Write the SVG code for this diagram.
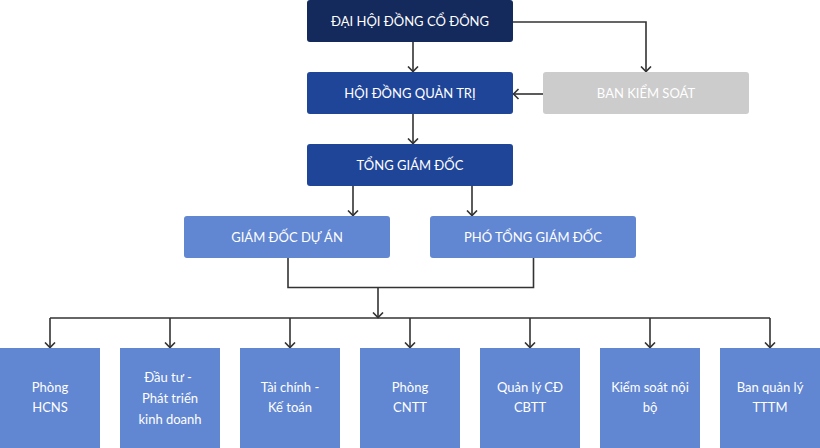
<svg xmlns="http://www.w3.org/2000/svg" width="820" height="448" viewBox="0 0 820 448">
<style>
.dark{fill:#14295c}
.mid{fill:#1f4599}
.light{fill:#6186d2}
.gray{fill:#cccccc}
.t{font-family:Lato,"Noto Sans","Liberation Sans",sans-serif;font-size:13px;fill:#ffffff;text-anchor:middle}
.c{fill:none;stroke:#333333;stroke-width:1.6}
</style>
<defs>
<marker id="ah" markerUnits="userSpaceOnUse" viewBox="-1 -7 8 14" markerWidth="8" markerHeight="14" refX="5.5" refY="0" orient="auto">
<path d="M0,-5 L5,0 L0,5" fill="none" stroke="#333333" stroke-width="1.6"/>
</marker>
</defs>
<rect width="820" height="448" fill="#ffffff"/>
<g id="connectors">
<path class="c" d="M413,42 V72" marker-end="url(#ah)"/>
<path class="c" d="M513,22 H646 V72" marker-end="url(#ah)"/>
<path class="c" d="M543,94 H513" marker-end="url(#ah)"/>
<path class="c" d="M413,114 V144" marker-end="url(#ah)"/>
<path class="c" d="M353,186 V216" marker-end="url(#ah)"/>
<path class="c" d="M472,186 V216" marker-end="url(#ah)"/>
<path class="c" d="M288,258 V287.5 H533.5 V258"/>
<path class="c" d="M378,287.5 V318" marker-end="url(#ah)"/>
<path class="c" d="M50,318 H770"/>
<path class="c" d="M50,318 V348" marker-end="url(#ah)"/>
<path class="c" d="M170,318 V348" marker-end="url(#ah)"/>
<path class="c" d="M290,318 V348" marker-end="url(#ah)"/>
<path class="c" d="M410,318 V348" marker-end="url(#ah)"/>
<path class="c" d="M530,318 V348" marker-end="url(#ah)"/>
<path class="c" d="M650,318 V348" marker-end="url(#ah)"/>
<path class="c" d="M770,318 V348" marker-end="url(#ah)"/>
</g>
<g id="dhdcd"><rect class="dark" x="307" y="0" width="206" height="42" rx="3"/><text class="t" x="410" y="26">ĐẠI HỘI ĐỒNG CỔ ĐÔNG</text></g>
<g id="hdqt"><rect class="mid" x="307" y="72" width="206" height="42" rx="3"/><text class="t" x="410" y="98">HỘI ĐỒNG QUẢN TRỊ</text></g>
<g id="bks"><rect class="gray" x="543" y="72" width="206" height="42" rx="3"/><text class="t" x="646" y="98">BAN KIỂM SOÁT</text></g>
<g id="tgd"><rect class="mid" x="307" y="144" width="206" height="42" rx="3"/><text class="t" x="410" y="170">TỔNG GIÁM ĐỐC</text></g>
<g id="gdda"><rect class="light" x="184" y="216" width="206" height="42" rx="3"/><text class="t" x="287" y="242">GIÁM ĐỐC DỰ ÁN</text></g>
<g id="ptgd"><rect class="light" x="430" y="216" width="206" height="42" rx="3"/><text class="t" x="533" y="242">PHÓ TỔNG GIÁM ĐỐC</text></g>
<g id="hcns"><rect class="light" x="0" y="348" width="100" height="100"/><text class="t" x="50" y="391.5">Phòng</text><text class="t" x="50" y="412">HCNS</text></g>
<g id="dtpt"><rect class="light" x="120" y="348" width="100" height="100"/><text class="t" x="168" y="381.5">Đầu tư -</text><text class="t" x="170" y="402.5">Phát triển</text><text class="t" x="170" y="423.5">kinh doanh</text></g>
<g id="tckt"><rect class="light" x="240" y="348" width="100" height="100"/><text class="t" x="290" y="391.5">Tài chính -</text><text class="t" x="290" y="412">Kế toán</text></g>
<g id="cntt"><rect class="light" x="360" y="348" width="100" height="100"/><text class="t" x="410" y="391.5">Phòng</text><text class="t" x="410" y="412">CNTT</text></g>
<g id="qlcd"><rect class="light" x="480" y="348" width="100" height="100"/><text class="t" x="530" y="391.5">Quản lý CĐ</text><text class="t" x="530" y="412">CBTT</text></g>
<g id="ksnb"><rect class="light" x="600" y="348" width="100" height="100"/><text class="t" x="650" y="391.5">Kiểm soát nội</text><text class="t" x="650" y="412">bộ</text></g>
<g id="bqltttm"><rect class="light" x="720" y="348" width="100" height="100"/><text class="t" x="770" y="391.5">Ban quản lý</text><text class="t" x="770" y="412">TTTM</text></g>
</svg>
